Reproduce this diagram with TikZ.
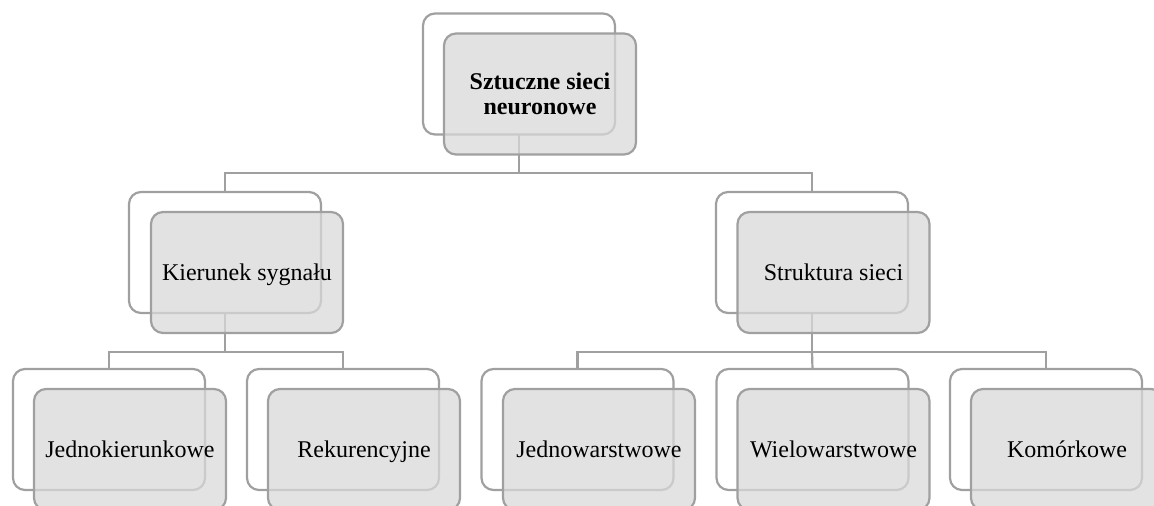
\documentclass[tikz,border=0pt]{standalone}
\usepackage{fontspec}
\setmainfont{Liberation Serif}
\definecolor{linegray}{HTML}{A0A0A0}
\definecolor{boxfill}{HTML}{D9D9D9}
\begin{document}
\begin{tikzpicture}[x=1pt,y=-1pt,
  backbox/.style={draw=linegray, line width=2.2pt, rounded corners=12pt, fill=white,
    minimum width=192pt, minimum height=121pt, inner sep=0pt, outer sep=0pt},
  frontbox/.style={draw=linegray, line width=2.2pt, rounded corners=12pt, fill=boxfill,
    fill opacity=0.75, text opacity=1, minimum width=192pt, minimum height=121pt,
    inner sep=0pt, outer sep=0pt, align=center,
    font=\fontsize{24}{25}\selectfont},
  oneline/.style={frontbox, text height=18.5pt, text depth=3.5pt},
  conn/.style={draw=linegray, line width=2.2pt}]
\useasboundingbox (0,0) rectangle (1154,506);
\clip (0,0) rectangle (1154,506);
% back boxes
\node[backbox] (b0) at (519,74) {};
\node[backbox] (b1) at (225,252.5) {};
\node[backbox] (b2) at (812,252.5) {};
\node[backbox] (b3) at (109,429.5) {};
\node[backbox] (b4) at (343,429.5) {};
\node[backbox] (b5) at (577.5,429.5) {};
\node[backbox] (b6) at (812.5,429.5) {};
\node[backbox] (b7) at (1046,429.5) {};
% connectors
\coordinate (j0) at (519,173);
\coordinate (j1) at (225,352);
\coordinate (j2) at (812,352);
\draw[conn] (b0.south) -- (j0) -| (b1.north);
\draw[conn] (j0) -| (b2.north);
\draw[conn] (b1.south) -- (j1) -| (b3.north);
\draw[conn] (j1) -| (b4.north);
\draw[conn] (b2.south) -- (j2) -| (b5.north);
\draw[conn] (j2) -- (b6.north);
\draw[conn] (j2) -| (b7.north);
% front boxes
\node[frontbox] (f0) at (540,94) {\bfseries Sztuczne sieci\\\bfseries neuronowe};
\node[oneline] (f1) at (247,272.5) {Kierunek sygnału};
\node[oneline] (f2) at (833.5,272.5) {Struktura sieci};
\node[oneline] (f3) at (130,449.5) {Jednokierunkowe};
\node[oneline] (f4) at (364,449.5) {Rekurencyjne};
\node[oneline] (f5) at (599,449.5) {Jednowarstwowe};
\node[oneline] (f6) at (833.5,449.5) {Wielowarstwowe};
\node[oneline] (f7) at (1067,449.5) {Komórkowe};
\end{tikzpicture}
\end{document}
